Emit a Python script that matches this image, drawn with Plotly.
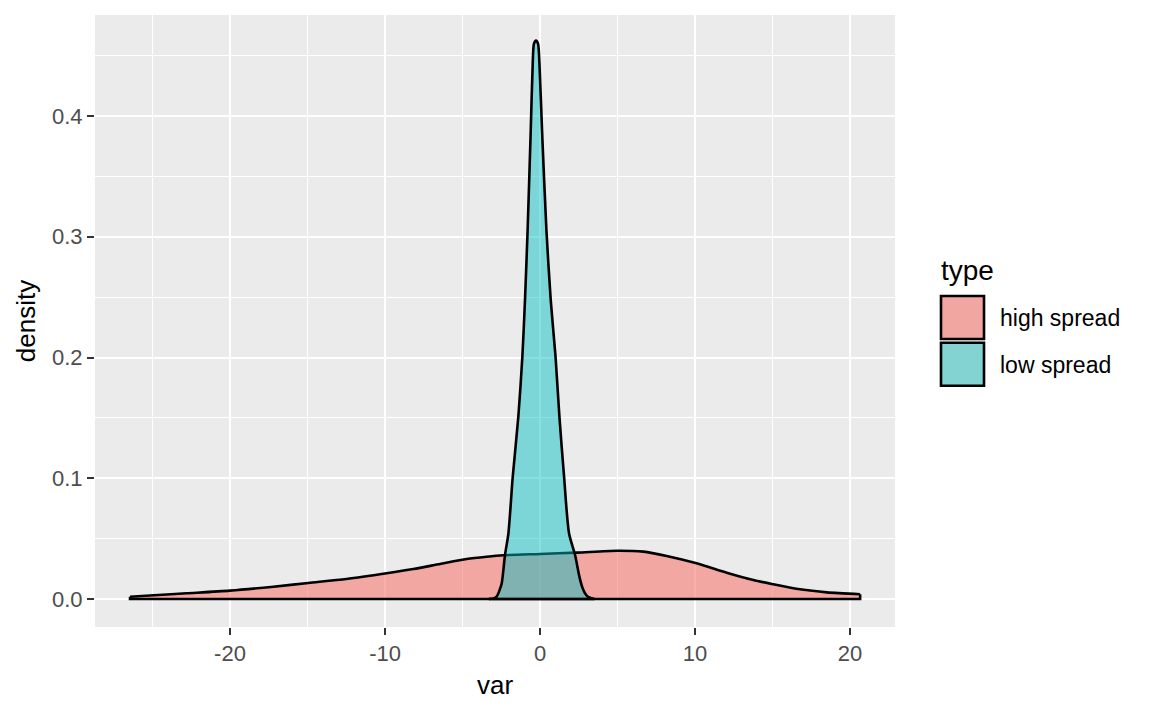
import plotly.graph_objects as go

# density curves (var, density)
high_var = [-26.45, -24.9, -22.8, -20.0, -17.2, -14.95, -12.5, -9.9, -8.17, -6.45,
            -4.73, -3.44, -2.37, 0.0, 2.37, 4.95, 6.67, 8.17, 10.1, 12.04,
            13.76, 15.05, 16.77, 18.5, 20.65]
high_density = [0.0019, 0.0031, 0.0047, 0.0069, 0.0102, 0.0133, 0.0166, 0.0213, 0.0248, 0.0290,
                0.0331, 0.0350, 0.0362, 0.0373, 0.0384, 0.0400, 0.0392, 0.0356, 0.0295, 0.0218,
                0.0157, 0.0122, 0.0080, 0.0055, 0.0039]

low_var = [-3.3, -3.0, -2.8, -2.62, -2.47, -2.26, -2.04, -1.76, -1.4, -1.14, -0.97, -0.8,
           -0.6, -0.47, -0.39, -0.26, -0.13, -0.04, 0.13, 0.41, 0.69, 1.0, 1.25, 1.55,
           1.87, 2.26, 2.54, 2.72, 2.9, 3.1, 3.33, 3.5]
low_density = [0.0, 0.0005, 0.002, 0.007, 0.013, 0.0364, 0.0544, 0.1013, 0.151, 0.2007, 0.2476, 0.306,
               0.388, 0.444, 0.460, 0.4625, 0.460, 0.444, 0.388, 0.306, 0.2476, 0.2007, 0.151, 0.1013,
               0.0544, 0.0364, 0.0185, 0.010, 0.0047, 0.0018, 0.0006, 0.0]

types = ['high spread', 'low spread']
fills = ['rgba(248,118,109,0.58)', 'rgba(0,191,196,0.47)']
key_fills = ['#F2A6A2', '#84D3D3']

x_ticks = [-20, -10, 0, 10, 20]
y_ticks = [0.0, 0.1, 0.2, 0.3, 0.4]
y_labels = ['0.0', '0.1', '0.2', '0.3', '0.4']

W, H = 1152, 711
L, R, T, B = 95, 895, 15, 627   # panel edges as seen in the page
OFF = 8                          # page body margin
FONT = 'Liberation Sans'
LW = 2.6


def px_x(x):
    return (x - L) / (R - L)


def px_y(y):
    return (B - y) / (B - T)


fig = go.Figure()
for name, xs, ys, fc in zip(types, [high_var, low_var], [high_density, low_density], fills):
    # smooth upper curve, filled down to zero
    fig.add_trace(go.Scatter(
        x=xs, y=ys, name=name, mode='lines', fill='tozeroy', fillcolor=fc,
        line=dict(color='black', width=LW, shape='spline', smoothing=0.7),
        showlegend=False, hoverinfo='skip'
    ))
    # rest of the outline: ends and baseline (old geom_density style)
    fig.add_trace(go.Scatter(
        x=[xs[0], xs[0], xs[-1], xs[-1]], y=[ys[0], 0, 0, ys[-1]],
        mode='lines', line=dict(color='black', width=LW),
        showlegend=False, hoverinfo='skip'
    ))

axis_common = dict(
    showgrid=True, gridcolor='white', gridwidth=2.4, zeroline=False,
    ticks='outside', ticklen=7, tickwidth=2.2, tickcolor='#333333',
    tickfont=dict(family=FONT, size=22, color='#4D4D4D'),
    showline=False,
)

fig.update_xaxes(
    range=[-28.71, 22.9], tickvals=x_ticks, ticktext=[str(v) for v in x_ticks],
    minor=dict(dtick=5, tick0=-25, showgrid=True, gridcolor='white', gridwidth=1.2, ticks=''),
    title=dict(text='var', font=dict(family=FONT, size=26, color='black'), standoff=10),
    **axis_common
)
fig.update_yaxes(
    range=[-0.0232, 0.4837], tickvals=y_ticks, ticktext=y_labels,
    minor=dict(dtick=0.05, tick0=0.05, showgrid=True, gridcolor='white', gridwidth=1.2, ticks=''),
    title=dict(text='density', font=dict(family=FONT, size=26, color='black'), standoff=8),
    **axis_common
)

# legend drawn ggplot-style
shapes = []
annotations = [dict(
    x=px_x(939), y=px_y(270), xref='paper', yref='paper', text='type', showarrow=False,
    xanchor='left', yanchor='middle', font=dict(family=FONT, size=28, color='black')
)]
key_top = [296, 342.7]
for name, kf, top in zip(types, key_fills, key_top):
    shapes.append(dict(
        type='rect', xref='paper', yref='paper',
        x0=px_x(941), x1=px_x(984), y0=px_y(top), y1=px_y(top + 43),
        fillcolor=kf, line=dict(color='black', width=LW)
    ))
    annotations.append(dict(
        x=px_x(998), y=px_y(top + 22), xref='paper', yref='paper', text=name,
        showarrow=False, xanchor='left', yanchor='middle',
        font=dict(family=FONT, size=23, color='black')
    ))

fig.update_layout(
    width=W, height=H,
    margin=dict(l=L - OFF, r=W - R + OFF, t=T - OFF, b=H - B + OFF),
    plot_bgcolor='#EBEBEB', paper_bgcolor='white',
    shapes=shapes, annotations=annotations,
    showlegend=False,
)

fig.write_html('out.html')
